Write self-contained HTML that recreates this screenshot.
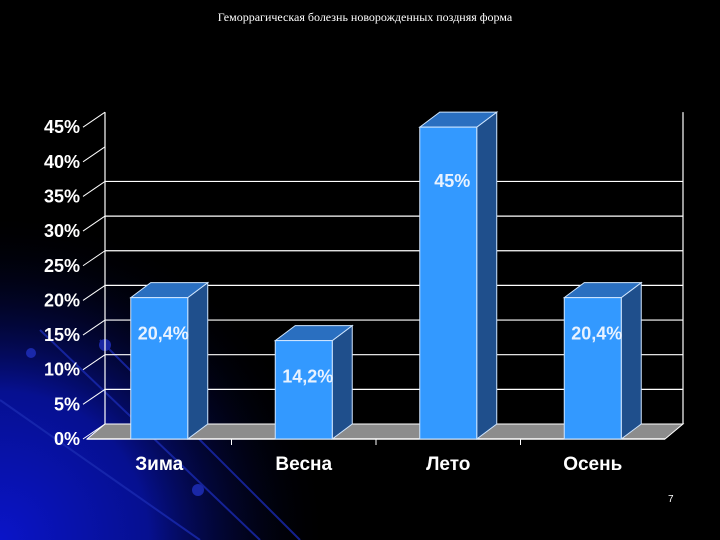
<!DOCTYPE html>
<html><head><meta charset="utf-8"><style>
html,body{margin:0;padding:0;background:#000;}
svg{display:block;}
text{font-family:"Liberation Sans","DejaVu Sans",sans-serif;}
</style></head><body>
<svg id="c" width="720" height="540" viewBox="0 0 720 540">
<defs>
<radialGradient id="bg" cx="0" cy="540" r="330" gradientUnits="userSpaceOnUse">
<stop offset="0" stop-color="#0a14c8"/><stop offset="0.45" stop-color="#061090"/><stop offset="1" stop-color="#000" stop-opacity="0"/>
</radialGradient>
</defs>
<rect width="720" height="540" fill="#000"/>
<rect width="720" height="540" fill="url(#bg)"/>
<g stroke="#1a2ab0" stroke-width="2" opacity="0.8">
<line x1="40" y1="330" x2="260" y2="540"/><line x1="100" y1="340" x2="300" y2="540"/><line x1="0" y1="400" x2="200" y2="540"/>
<circle cx="31" cy="353" r="5" fill="#2030c0" stroke="none"/><circle cx="105" cy="345" r="6" fill="#2030c0" stroke="none"/><circle cx="198" cy="490" r="6" fill="#2030c0" stroke="none"/>
</g>
<text x="365" y="21" text-anchor="middle" fill="#fff" font-size="12" style="font-family:'Liberation Serif',serif">Геморрагическая болезнь новорожденных поздняя форма</text>
<g id="plot"></g>
</svg>
<script>
const categories=["Зима","Весна","Лето","Осень"];
const values=[20.4,14.2,45,20.4];
const valueLabels=["20,4%","14,2%","45%","20,4%"];
const tickValues=[0,5,10,15,20,25,30,35,40,45];
const tickLabels=["0%","5%","10%","15%","20%","25%","30%","35%","40%","45%"];

const NS="http://www.w3.org/2000/svg";
const g=document.getElementById('plot');
const DX=18,DY=15;
const X0=87,X1=665,Y0=439,PX=6.93;
function y(v){return Y0-v*PX;}
function x(i){return X0+(i+0.5)*(X1-X0)/categories.length;}
function mk(tag,attrs,parent){const e=document.createElementNS(NS,tag);for(const k in attrs)e.setAttribute(k,attrs[k]);(parent||g).appendChild(e);return e;}

let floor=mk('polygon',{points:`${X0},${Y0} ${X1},${Y0} ${X1+DX},${Y0-DY} ${X0+DX},${Y0-DY}`,fill:'#8c8c8c',stroke:'#fff','stroke-width':1});


const wallTop=y(45)-DY;
let wl=mk('line',{x1:X0+DX,y1:Y0-DY,x2:X0+DX,y2:wallTop,stroke:'#fff','stroke-width':1.2});


let wr=mk('line',{x1:X1+DX,y1:Y0-DY,x2:X1+DX,y2:wallTop,stroke:'#fff','stroke-width':1.2});


mk('line',{x1:X0,y1:Y0,x2:X1,y2:Y0,stroke:'#fff','stroke-width':1.5});
tickValues.forEach((v,i)=>{
  const yy=y(v);
  if(v>0 && v<40){
    const gl=mk('line',{x1:X0+DX,y1:yy-DY,x2:X1+DX,y2:yy-DY,stroke:'#fff','stroke-width':1.2});
    
    
  }
  const tk=mk('line',{x1:X0-4,y1:yy,x2:X0+DX,y2:yy-DY,stroke:'#fff','stroke-width':1});
  
  
  const t=mk('text',{x:80,y:yy+6,'text-anchor':'end',fill:'#fff','font-size':18,'font-weight':'bold'});
  t.textContent=tickLabels[i];
  
  
});
for(let i=1;i<categories.length;i++){
  const cx=X0+i*(X1-X0)/categories.length;
  mk('line',{x1:cx,y1:Y0,x2:cx,y2:Y0+6,stroke:'#fff','stroke-width':1});
}
const BW=57;
categories.forEach((c,i)=>{
  const cx=x(i),l=cx-BW/2,r=cx+BW/2,top=y(values[i]);
  const bg=mk('g',{});
  
  
  mk('polygon',{points:`${r},${Y0} ${r+DX+2},${Y0-DY} ${r+DX+2},${top-DY} ${r},${top}`,fill:'#1f4f8c',stroke:'#cfe6ff','stroke-width':1},bg);
  mk('polygon',{points:`${l},${top} ${l+DX+2},${top-DY} ${r+DX+2},${top-DY} ${r},${top}`,fill:'#2a6fc0',stroke:'#cfe6ff','stroke-width':1},bg);
  mk('rect',{x:l,y:top,width:BW,height:Y0-top,fill:'#3399ff',stroke:'#cfe6ff','stroke-width':1},bg);
  const off=values[i]>40?60:42;
  const vl=mk('text',{x:cx+4,y:top+off,'text-anchor':'middle',fill:'#e8f2ff','font-size':18,'font-weight':'bold'});
  vl.textContent=valueLabels[i];
  
  
  const cl=mk('text',{x:cx,y:470,'text-anchor':'middle',fill:'#fff','font-size':19,'font-weight':'bold'});
  cl.textContent=c;
  
  
});
</script>
<div style="position:absolute;left:668px;top:494px;color:#fff;font:10px 'Liberation Sans',sans-serif">7</div>
</body></html>
